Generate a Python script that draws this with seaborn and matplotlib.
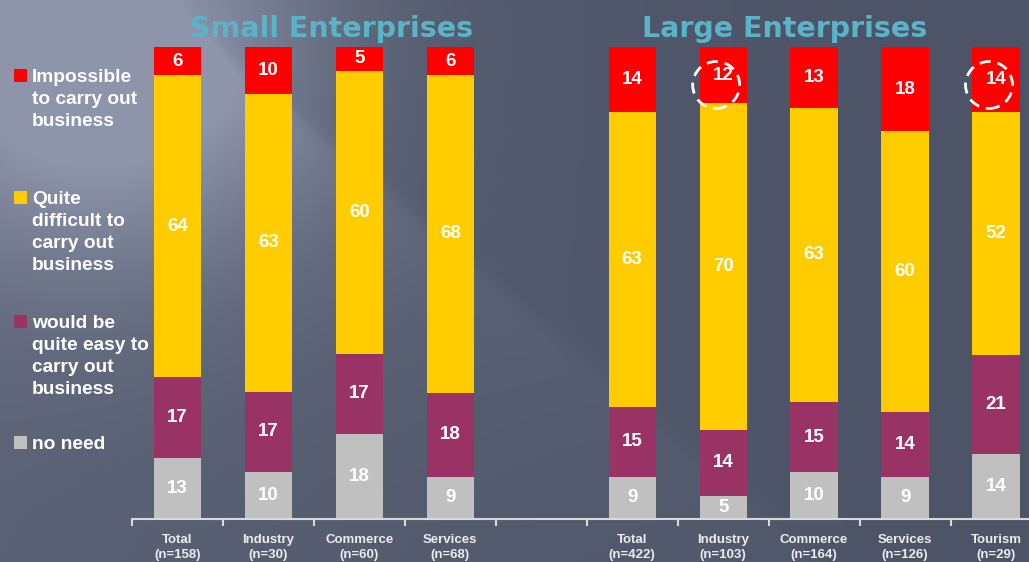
import numpy as np
import pandas as pd
import matplotlib
matplotlib.use("Agg")
import matplotlib.pyplot as plt
import seaborn as sns
from matplotlib.patches import Rectangle, Circle
from matplotlib.ticker import FixedLocator
from matplotlib.transforms import ScaledTranslation

# ---- data (percent of respondents per group) ----------------------------
categories = [
    "Total\n(n=158)", "Industry\n(n=30)", "Commerce\n(n=60)", "Services\n(n=68)", " ",
    "Total\n(n=422)", "Industry\n(n=103)", "Commerce\n(n=164)", "Services\n(n=126)",
    "Tourism\n(n=29)",
]
no_need = [13, 10, 18, 9, 0, 9, 5, 10, 9, 14]
quite_easy = [17, 17, 17, 18, 0, 15, 14, 15, 14, 21]
quite_difficult = [64, 63, 60, 68, 0, 63, 70, 63, 60, 52]
impossible = [6, 10, 5, 6, 0, 14, 12, 13, 18, 14]

group_titles = ["Small Enterprises", "Large Enterprises"]
legend_labels = [
    "Impossible\nto carry out\nbusiness",
    "Quite\ndifficult to\ncarry out\nbusiness",
    "would be\nquite easy to\ncarry out\nbusiness",
    "no need",
]
highlighted = ["Industry\n(n=103)", "Tourism\n(n=29)"]

# ---- styling ----------------------------------------------------------
RED, YELLOW, PURPLE, GREY = "#ff0000", "#ffcc00", "#993366", "#c0c0c0"
TITLE_COLOR = "#5ab4c9"
plt.rcParams["font.family"] = ["Liberation Sans", "DejaVu Sans"]

W, H = 1029, 562
fig = plt.figure(figsize=(W / 100, H / 100), dpi=100)

# slate background with a soft light sheen from the upper left
yy, xx = np.mgrid[0:H, 0:W].astype(float)
dark = np.array([78, 84, 103]) / 255
light = np.array([142, 148, 170]) / 255
glow = 0.95 * np.exp(-((xx - 100) ** 2 + (yy - 45) ** 2) / (2 * 150 ** 2))
ramp = 0.2 * (1 - xx / W) ** 1.5
s = (xx - 160) * (-0.648) + yy * 0.762
along = np.clip((xx - 160) * 0.762 + yy * 0.648, 0, None)
sheen = 0.4 / (1 + np.exp(-s / 5)) * np.exp(-np.clip(s, 0, None) / 200) * np.exp(-along / 420)
w = np.clip(glow + ramp + sheen, 0, 1)[..., None]
bg = dark + w * (light - dark)
bg_ax = fig.add_axes([0, 0, 1, 1], zorder=0)
bg_ax.imshow(bg, aspect="auto", interpolation="bilinear")
bg_ax.set_axis_off()

ax = fig.add_axes([132 / W, 43 / H, 909.5 / W, 472 / H], zorder=1)
ax.patch.set_alpha(0)

# ---- 100% stacked bars (drawn as overlapping cumulative totals) ---------
layers = np.array([no_need, quite_easy, quite_difficult, impossible], dtype=float)
colors = [GREY, PURPLE, YELLOW, RED]
totals = layers.sum(axis=0)
shares = np.divide(layers * 100, totals, out=np.zeros_like(layers), where=totals > 0)
cum = np.cumsum(shares, axis=0)
for level in range(len(layers) - 1, -1, -1):
    df = pd.DataFrame({"category": categories, "value": cum[level]})
    sns.barplot(data=df, x="category", y="value", order=categories, color=colors[level],
                saturation=1, width=0.52, linewidth=0, errorbar=None, ax=ax)

ax.set_xlim(-0.5, len(categories) - 0.5)
ax.set_ylim(0, 100)

# value labels in the middle of each segment
for level in range(len(layers)):
    for i, v in enumerate(layers[level]):
        if v <= 0:
            continue
        centre = cum[level][i] - shares[level][i] / 2
        ax.text(i, centre, f"{int(v)}", ha="center", va="center",
                color="white", fontsize=13.5, fontweight="bold", zorder=5)

# dashed circles around highlighted values
for name in highlighted:
    i = categories.index(name)
    tr = fig.dpi_scale_trans + ScaledTranslation(i, 100, ax.transData)
    ax.add_patch(Circle((-0.07, -0.38), 0.235, transform=tr, fill=False,
                        edgecolor="white", linewidth=2, linestyle=(0, (4, 2.5)),
                        zorder=6, clip_on=False))

# ---- axes --------------------------------------------------------------
for side in ["left", "right", "top"]:
    ax.spines[side].set_visible(False)
ax.spines["bottom"].set_color("#d9d9d9")
ax.spines["bottom"].set_linewidth(1.5)
ax.set_yticks([])
ax.set_xlabel("")
ax.set_ylabel("")
ax.set_xticks(range(len(categories)))
ax.set_xticklabels(categories, fontsize=9.5, fontweight="bold", color="#ececec",
                   linespacing=1.32)
ax.tick_params(axis="x", which="major", length=0, pad=11)
ax.xaxis.set_minor_locator(FixedLocator(np.arange(-0.5, len(categories), 1.0)))
ax.tick_params(axis="x", which="minor", length=5, width=1.5, color="#d9d9d9",
               direction="out", bottom=True)

# ---- group titles -------------------------------------------------------
for title, xpos in zip(group_titles, [332, 785]):
    fig.text(xpos / W, 1 - 37 / H, title, ha="center", va="baseline",
             color=TITLE_COLOR, fontsize=20.5, fontweight="heavy",
             family=["DejaVu Sans"])

# ---- legend -------------------------------------------------------------
legend_colors = [RED, YELLOW, PURPLE, GREY]
first_baselines = [82, 204, 328, 449]
line_step = 22
for label, col, base in zip(legend_labels, legend_colors, first_baselines):
    fig.patches.append(Rectangle((14 / W, 1 - base / H), 13 / W, 13 / H,
                                 transform=fig.transFigure, facecolor=col,
                                 edgecolor="none", zorder=3))
    for k, line in enumerate(label.split("\n")):
        fig.text(32 / W, 1 - (base + k * line_step) / H, line, ha="left",
                 va="baseline", color="white", fontsize=13.8, fontweight="bold")

fig.savefig("out.png", dpi=100)
